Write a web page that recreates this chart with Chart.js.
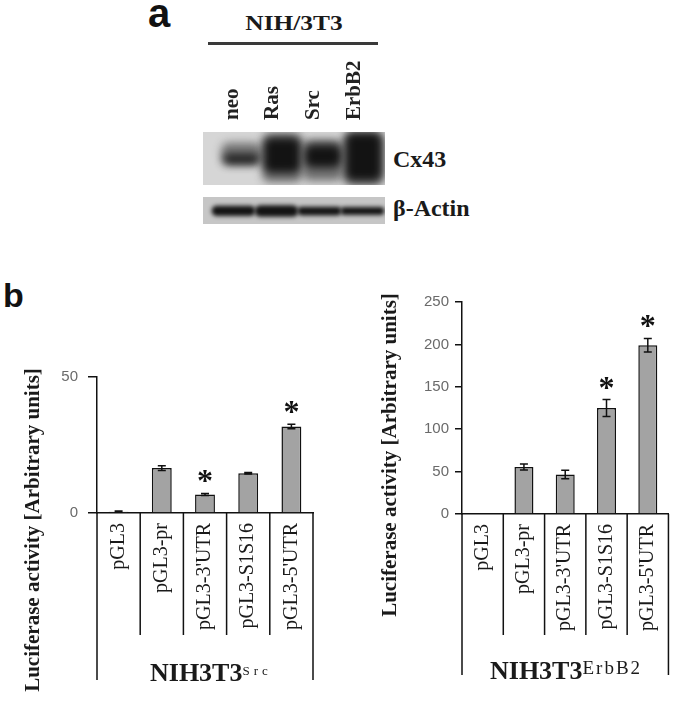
<!DOCTYPE html>
<html>
<head>
<meta charset="utf-8">
<script src="https://cdn.jsdelivr.net/npm/chart.js@4.4.1/dist/chart.umd.min.js"></script>
<style>
  body { margin: 0; background: #fff; width: 683px; height: 710px; position: relative; overflow: hidden; }
  .t { position: absolute; white-space: nowrap; color: #1a1a1a; font-family: 'Liberation Serif', serif; }
  canvas { position: absolute; }
  .ytitle { width: 340px; height: 22px; line-height: 22px; text-align: center; font-weight: bold; font-size: 21px; transform: rotate(-90deg); }
  .group { font-weight: bold; font-size: 26px; line-height: 26px; }
</style>
</head>
<body>
<div class="t" style="left:148px;top:-7px;font:bold 40px/40px 'Liberation Sans';color:#111">a</div>
<div class="t" style="left:194px;top:13px;width:200px;text-align:center;font-weight:bold;font-size:20px;line-height:20px;transform:scaleX(1.27)">NIH/3T3</div>
<div style="position:absolute;left:208px;top:42px;width:170px;height:3px;background:#3a3a3a"></div>
<canvas id="cx43" width="182" height="145" style="left:203px;top:40px"></canvas>
<canvas id="actin" width="182" height="27" style="left:203px;top:197px"></canvas>
<div class="t" style="left:393px;top:147px;font-weight:bold;font-size:24px;line-height:24px">Cx43</div>
<div class="t" style="left:393px;top:196px;font-weight:bold;font-size:24px;line-height:24px">β-Actin</div>

<div class="t" style="left:3px;top:278px;font:bold 34px/34px 'Liberation Sans';color:#111">b</div>
<canvas id="srcChart" width="340" height="400" style="left:0px;top:300px"></canvas>
<canvas id="erbChart" width="343" height="460" style="left:340px;top:240px"></canvas>
<div class="t ytitle" style="left:-138px;top:519px">Luciferase activity [Arbitrary units]</div>
<div class="t ytitle" style="left:219px;top:444px">Luciferase activity [Arbitrary units]</div>
<div class="t group" style="left:150px;top:660px">NIH3T3<span style="font-weight:normal;font-size:13px;letter-spacing:4px;position:relative;top:-6px">Src</span></div>
<div class="t group" style="left:490px;top:658px">NIH3T3<span style="font-weight:normal;font-size:19px;letter-spacing:2px;position:relative;top:-5px">ErbB2</span></div>

<script>
// Panel a: western blot lanes
const lanes = ['neo', 'Ras', 'Src', 'ErbB2'];
const cx43Density = [0.95, 1, 1, 1];
const cx43Core = [[0.40, 0.58], [0.23, 0.89], [0.33, 0.76], [0.08, 0.98]];
const cx43Halo = [[0.38, 0.80], [0.05, 0.97], [0.08, 0.86], [0.0, 1.0]];
const actinBand = [[0.31, 0.66], [0.28, 0.68], [0.33, 0.63], [0.35, 0.62]];

// Panel b: luciferase assays
const constructs = ['pGL3', 'pGL3-pr', "pGL3-3'UTR", 'pGL3-S1S16', "pGL3-5'UTR"];
const srcValues = [0.5, 16.5, 6.8, 14.6, 31.8];
const srcErrors = [0.2, 0.9, 0.4, 0.3, 0.8];
const srcSig = [false, false, true, false, true];
const erbValues = [0, 55.5, 46.5, 125, 199];
const erbErrors = [0, 3.5, 5, 10, 8];
const erbSig = [false, false, false, true, true];
const srcAxis = { max: 50, step: 50 };
const erbAxis = { max: 250, step: 50 };

Chart.defaults.font.family = 'Liberation Serif';

function blotPlugin(bg, blur) {
    return {
        id: 'blot',
        beforeDatasetsDraw(chart) {
            const { ctx, chartArea } = chart;
            ctx.save();
            ctx.fillStyle = bg;
            ctx.fillRect(0, chartArea.top, chart.width, chartArea.bottom - chartArea.top);
            ctx.restore();
        },
        beforeDatasetDraw(chart) {
            const { ctx, chartArea } = chart;
            ctx.save();
            ctx.beginPath();
            ctx.rect(0, chartArea.top, chart.width, chartArea.bottom - chartArea.top);
            ctx.clip();
            ctx.filter = 'blur(' + blur + 'px)';
        },
        afterDatasetDraw(chart) {
            chart.ctx.restore();
        }
    };
}

function band(data, color, pct) {
    return {
        data: data,
        backgroundColor: color,
        barPercentage: pct,
        categoryPercentage: 1,
        grouped: false,
        borderRadius: 7,
        borderSkipped: false,
        clip: false
    };
}

new Chart(document.getElementById('cx43'), {
    type: 'bar',
    data: {
        labels: lanes,
        datasets: [
            band(cx43Halo, cx43Density.map(d => 'rgba(30,30,30,' + (0.55 * d) + ')'), 0.98),
            band(cx43Core, cx43Density.map(d => 'rgba(8,8,8,' + d + ')'), 0.88)
        ]
    },
    options: {
        responsive: false,
        animation: false,
        layout: { padding: { left: 9, right: 1 } },
        plugins: { legend: { display: false }, tooltip: { enabled: false } },
        scales: {
            x: {
                position: 'top',
                grid: { display: false, drawTicks: false },
                border: { display: false },
                ticks: {
                    minRotation: 90, maxRotation: 90, padding: 12, labelOffset: 16, color: '#222',
                    font: { size: 21, weight: 'bold' }
                },
                afterFit: s => { s.height = 92; }
            },
            y: { display: false, min: 0, max: 1 }
        }
    },
    plugins: [blotPlugin('#d6d6d6', 4)]
});

new Chart(document.getElementById('actin'), {
    type: 'bar',
    data: {
        labels: lanes,
        datasets: [band(actinBand, 'rgba(10,10,10,0.95)', 1)]
    },
    options: {
        responsive: false,
        animation: false,
        layout: { padding: { left: 9, right: 1 } },
        plugins: { legend: { display: false }, tooltip: { enabled: false } },
        scales: {
            x: { display: false },
            y: { display: false, min: 0, max: 1 }
        }
    },
    plugins: [blotPlugin('#c6c6c6', 2)]
});

// error bars + significance stars
function errorBarPlugin(errors, sig) {
    return {
        id: 'errorBars',
        afterDatasetsDraw(chart) {
            const { ctx, scales: { y } } = chart;
            const meta = chart.getDatasetMeta(0);
            const values = chart.data.datasets[0].data;
            ctx.save();
            ctx.strokeStyle = '#111';
            ctx.lineWidth = 1.5;
            meta.data.forEach((bar, i) => {
                const top = y.getPixelForValue(values[i] + errors[i]);
                const bottom = y.getPixelForValue(values[i] - errors[i]);
                if (errors[i] > 0) {
                    ctx.beginPath();
                    ctx.moveTo(bar.x, top); ctx.lineTo(bar.x, bottom);
                    ctx.moveTo(bar.x - 4, top); ctx.lineTo(bar.x + 4, top);
                    ctx.moveTo(bar.x - 4, bottom); ctx.lineTo(bar.x + 4, bottom);
                    ctx.stroke();
                }
                if (sig[i]) {
                    ctx.fillStyle = '#111';
                    ctx.font = "bold 32px 'Liberation Serif'";
                    ctx.textAlign = 'center';
                    ctx.textBaseline = 'alphabetic';
                    ctx.fillText('*', bar.x, top - 2);
                }
            });
            ctx.restore();
        }
    };
}

// category boxes under the axis
function separatorPlugin(inner, outer) {
    return {
        id: 'separators',
        afterDraw(chart) {
            const { ctx, chartArea, scales: { x } } = chart;
            const n = x.ticks.length;
            ctx.save();
            ctx.strokeStyle = '#111';
            ctx.lineWidth = 1.5;
            ctx.beginPath();
            for (let i = 0; i <= n; i++) {
                let px;
                if (i === 0) px = chartArea.left;
                else if (i === n) px = chartArea.right;
                else px = (x.getPixelForValue(i - 1) + x.getPixelForValue(i)) / 2;
                const len = (i === 0 || i === n) ? outer : inner;
                ctx.moveTo(px, chartArea.bottom);
                ctx.lineTo(px, chartArea.bottom + len);
            }
            ctx.stroke();
            ctx.restore();
        }
    };
}

function luciferaseChart(id, values, errors, sig, axis, opt) {
    return new Chart(document.getElementById(id), {
        type: 'bar',
        data: {
            labels: constructs,
            datasets: [{
                data: values,
                backgroundColor: '#a3a3a3',
                borderColor: '#111',
                borderWidth: 1.5,
                barPercentage: 0.46,
                categoryPercentage: 1
            }]
        },
        options: {
            responsive: false,
            animation: false,
            layout: { padding: opt.padding },
            plugins: { legend: { display: false }, tooltip: { enabled: false } },
            scales: {
                x: {
                    grid: { display: false, drawTicks: false },
                    border: { color: '#111', width: 1.5 },
                    ticks: {
                        minRotation: 90, maxRotation: 90, autoSkip: false, padding: 10,
                        color: '#1a1a1a', font: { size: 20 }
                    },
                    afterFit: s => { s.height = opt.xHeight; }
                },
                y: {
                    min: 0,
                    max: axis.max,
                    ticks: {
                        stepSize: axis.step, padding: opt.tickPad, color: '#6a6a6a',
                        font: { family: 'Liberation Sans', size: 15 }
                    },
                    grid: { drawOnChartArea: false, color: '#111', lineWidth: 1.5, tickLength: opt.tickLen },
                    border: { color: '#111', width: 1.5 },
                    afterFit: s => { s.width = opt.yWidth; }
                }
            }
        },
        plugins: [errorBarPlugin(errors, sig), separatorPlugin(opt.inner, opt.outer)]
    });
}

luciferaseChart('srcChart', srcValues, srcErrors, srcSig, srcAxis, {
    padding: { left: 57, right: 27, top: 77, bottom: 20 },
    xHeight: 167, yWidth: 40, tickPad: 10, tickLen: 9, inner: 122, outer: 167
});

luciferaseChart('erbChart', erbValues, erbErrors, erbSig, erbAxis, {
    padding: { left: 77, right: 12, top: 62, bottom: 20 },
    xHeight: 166, yWidth: 45, tickPad: 6, tickLen: 7, inner: 121, outer: 161
});
</script>
</body>
</html>
